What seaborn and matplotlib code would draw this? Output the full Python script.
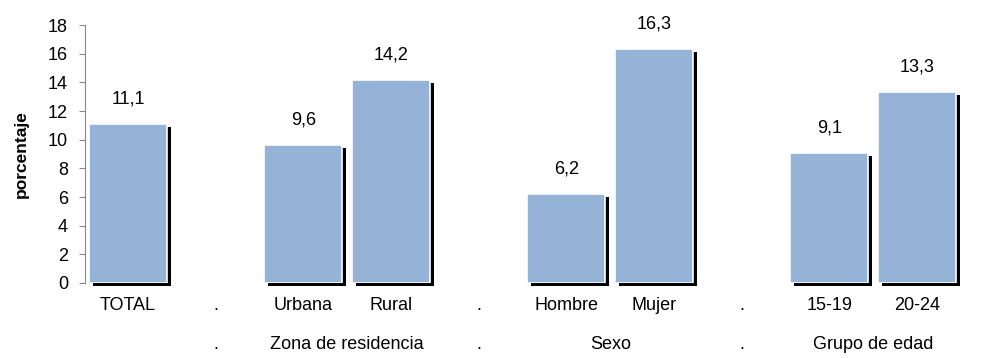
import numpy as np
import pandas as pd
import seaborn as sns
import matplotlib.pyplot as plt
from matplotlib.transforms import blended_transform_factory

# datos
categorias = ["TOTAL", ".", "Urbana", "Rural", ".", "Hombre", "Mujer", ".", "15-19", "20-24"]
valores = [11.1, np.nan, 9.6, 14.2, np.nan, 6.2, 16.3, np.nan, 9.1, 13.3]
grupos = [".", "Zona de residencia", ".", "Sexo", ".", "Grupo de edad"]
grupos_pos = [1, 2.5, 4, 5.5, 7, 8.5]

sns.set_style("white")
plt.rcParams['font.family'] = ['Liberation Sans', 'DejaVu Sans']
plt.rcParams['text.color'] = 'black'
plt.rcParams['axes.labelcolor'] = 'black'
plt.rcParams['xtick.color'] = 'black'
plt.rcParams['ytick.color'] = 'black'

df = pd.DataFrame({"pos": range(len(categorias)), "valor": valores})

fig = plt.figure(figsize=(10.01, 3.58), dpi=100)
ax = fig.add_axes([0.0849, 0.2095, 0.960 - 0.0849, 0.930 - 0.2095])

ancho = 0.89
dx, dy = 0.045, 0.21

# sombra negra detras de cada barra
pos = np.arange(len(valores))
vals = np.array(valores)
ok = ~np.isnan(vals)
ax.bar(pos[ok] + dx, vals[ok], width=ancho, bottom=-dy, color="black",
       linewidth=0, zorder=1, clip_on=False)

sns.barplot(data=df, x="pos", y="valor", order=list(range(len(categorias))),
            color="#95B3D7", saturation=1, width=ancho, errorbar=None,
            edgecolor="white", linewidth=1.2, ax=ax, zorder=2)

for p, v in zip(pos[ok], vals[ok]):
    ax.annotate(f"{v:.1f}".replace(".", ","), (p, v), xytext=(0, 25),
                textcoords="offset pixels", ha="center", va="center", fontsize=13)

ax.set_xlim(-0.49, 9.5)
ax.set_ylim(0, 18)
ax.set_yticks(range(0, 19, 2))
ax.set_xticks(pos)
ax.set_xticklabels(categorias)
ax.tick_params(axis="x", length=0, pad=10, labelsize=13)
ax.tick_params(axis="y", left=True, length=4.3, width=0.8, color="#888888",
               labelcolor="black", pad=8, labelsize=13, direction="out")

for s in ["top", "right", "bottom"]:
    ax.spines[s].set_visible(False)
ax.spines["left"].set_color("#888888")
ax.spines["left"].set_linewidth(0.8)

ax.set_xlabel("")
ax.set_ylabel("porcentaje", fontsize=12.5, fontweight="bold")
ax.yaxis.set_label_coords(-0.064, 0.5)

trans = blended_transform_factory(ax.transData, ax.transAxes)
for x, t in zip(grupos_pos, grupos):
    ax.text(x, -0.24, t, transform=trans, ha="center", va="center", fontsize=13)

fig.savefig("out.png", dpi=100)
